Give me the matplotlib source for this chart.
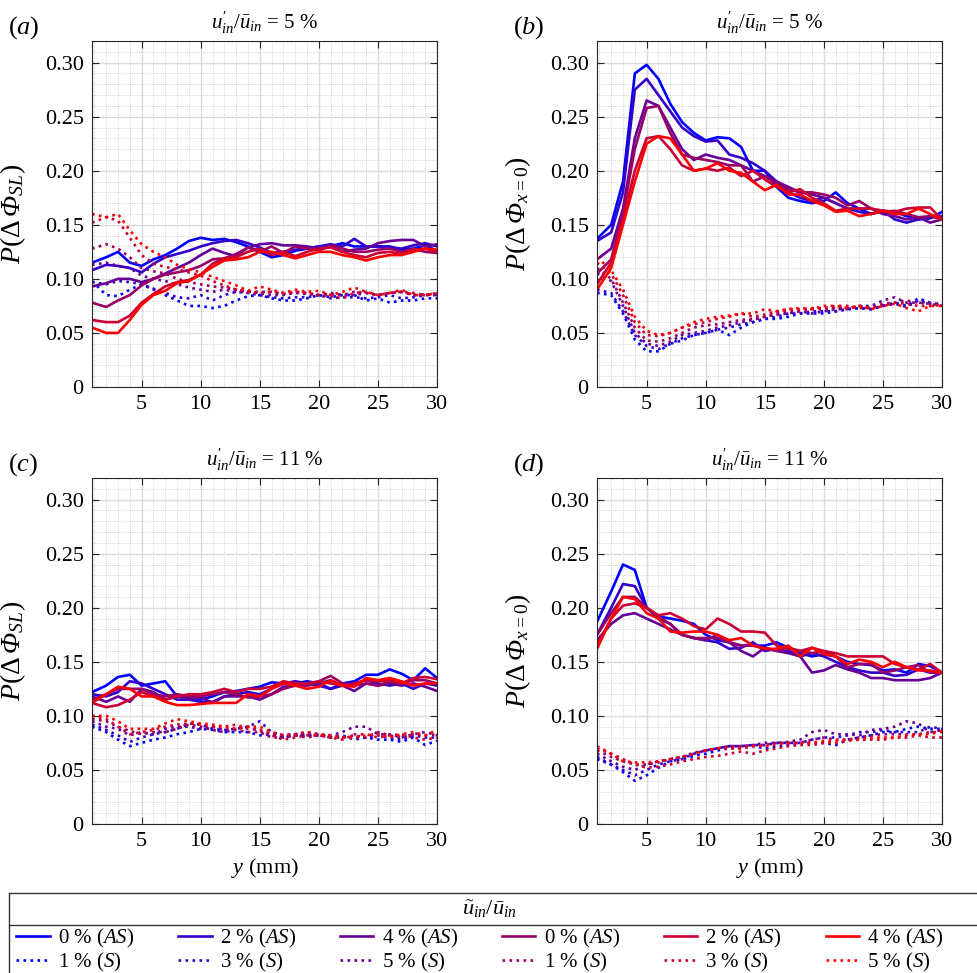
import numpy as np
import matplotlib
matplotlib.use("Agg")
import matplotlib.pyplot as plt
from matplotlib.lines import Line2D
from matplotlib.ticker import MultipleLocator, FuncFormatter

plt.rcParams['font.family'] = ['Liberation Serif', 'DejaVu Serif']
plt.rcParams['mathtext.fontset'] = 'custom'
plt.rcParams['mathtext.rm'] = 'Liberation Serif'
plt.rcParams['mathtext.it'] = 'Liberation Serif:italic'
plt.rcParams['mathtext.sf'] = 'Liberation Serif:italic'   # used for the italic capital Phi

# radial position (mm)
y_mm = np.r_[0.8, np.arange(2, 31)]

colors = ['#0000ff', '#3300cc', '#660099', '#990066', '#cc0033', '#ff0000']
as_labels = ['0 %', '2 %', '4 %', '0 %', '2 %', '4 %']
s_labels = ['1 %', '3 %', '5 %', '1 %', '3 %', '5 %']

# (a) P(dPhi_SL), u'/u = 5 %
a_solid = [
    [0.115,0.120,0.125,0.115,0.112,0.118,0.122,0.128,0.135,0.138,0.136,0.137,0.134,0.130,0.125,0.120,0.122,0.126,0.128,0.130,0.130,0.133,0.130,0.130,0.130,0.130,0.127,0.128,0.131,0.126],
    [0.108,0.113,0.112,0.110,0.106,0.114,0.120,0.123,0.126,0.130,0.133,0.135,0.136,0.133,0.129,0.124,0.125,0.127,0.128,0.130,0.132,0.130,0.137,0.130,0.130,0.129,0.128,0.131,0.133,0.130],
    [0.093,0.096,0.100,0.100,0.097,0.100,0.105,0.110,0.115,0.122,0.128,0.124,0.121,0.129,0.132,0.133,0.131,0.131,0.130,0.128,0.130,0.125,0.127,0.128,0.133,0.135,0.136,0.136,0.130,0.132],
    [0.078,0.074,0.080,0.085,0.094,0.100,0.104,0.106,0.108,0.112,0.118,0.119,0.123,0.129,0.125,0.130,0.124,0.130,0.128,0.126,0.131,0.128,0.125,0.125,0.127,0.128,0.125,0.128,0.125,0.124],
    [0.062,0.060,0.060,0.066,0.078,0.086,0.093,0.097,0.099,0.104,0.114,0.119,0.120,0.125,0.128,0.122,0.125,0.121,0.125,0.128,0.129,0.125,0.122,0.120,0.124,0.125,0.123,0.127,0.128,0.125],
    [0.055,0.050,0.050,0.062,0.076,0.085,0.089,0.096,0.098,0.104,0.111,0.117,0.118,0.120,0.125,0.125,0.122,0.119,0.122,0.125,0.125,0.122,0.120,0.117,0.120,0.122,0.122,0.125,0.128,0.127],
]
a_dotted = [
    [0.098,0.085,0.084,0.090,0.095,0.091,0.085,0.080,0.075,0.075,0.073,0.075,0.080,0.084,0.085,0.082,0.080,0.080,0.082,0.085,0.083,0.085,0.085,0.080,0.082,0.078,0.080,0.080,0.082,0.082],
    [0.097,0.095,0.098,0.097,0.095,0.090,0.087,0.083,0.082,0.085,0.080,0.085,0.088,0.087,0.085,0.083,0.082,0.083,0.083,0.085,0.082,0.083,0.083,0.082,0.083,0.085,0.082,0.083,0.085,0.085],
    [0.113,0.115,0.112,0.110,0.103,0.100,0.098,0.095,0.092,0.090,0.088,0.090,0.088,0.088,0.087,0.085,0.085,0.087,0.086,0.085,0.087,0.085,0.085,0.087,0.085,0.087,0.088,0.085,0.085,0.086],
    [0.128,0.132,0.128,0.120,0.110,0.107,0.105,0.100,0.097,0.095,0.093,0.092,0.090,0.088,0.088,0.088,0.086,0.088,0.087,0.085,0.086,0.085,0.088,0.087,0.085,0.087,0.088,0.085,0.086,0.085],
    [0.152,0.157,0.154,0.138,0.122,0.114,0.111,0.109,0.106,0.103,0.098,0.094,0.090,0.088,0.087,0.088,0.087,0.088,0.087,0.085,0.084,0.082,0.087,0.088,0.085,0.087,0.088,0.087,0.085,0.087],
    [0.160,0.157,0.160,0.145,0.132,0.125,0.120,0.113,0.109,0.106,0.102,0.098,0.094,0.089,0.093,0.090,0.087,0.090,0.088,0.089,0.085,0.088,0.092,0.088,0.085,0.087,0.090,0.085,0.085,0.087],
]

# (b) P(dPhi_x=0), u'/u = 5 %
b_solid = [
    [0.137,0.150,0.190,0.290,0.298,0.285,0.262,0.245,0.235,0.228,0.231,0.230,0.222,0.200,0.200,0.185,0.175,0.172,0.170,0.172,0.180,0.170,0.165,0.160,0.163,0.162,0.158,0.155,0.156,0.162],
    [0.135,0.143,0.180,0.275,0.285,0.270,0.255,0.240,0.232,0.227,0.228,0.215,0.212,0.207,0.200,0.190,0.180,0.175,0.172,0.175,0.170,0.165,0.162,0.160,0.163,0.155,0.152,0.155,0.157,0.158],
    [0.118,0.128,0.165,0.230,0.265,0.260,0.240,0.220,0.210,0.215,0.212,0.210,0.205,0.200,0.195,0.190,0.185,0.180,0.178,0.175,0.170,0.165,0.165,0.165,0.160,0.158,0.155,0.157,0.152,0.155],
    [0.105,0.118,0.160,0.220,0.258,0.260,0.235,0.215,0.212,0.210,0.208,0.205,0.205,0.190,0.195,0.188,0.183,0.180,0.180,0.178,0.175,0.168,0.172,0.165,0.162,0.163,0.160,0.157,0.158,0.155],
    [0.095,0.115,0.155,0.200,0.230,0.232,0.220,0.205,0.200,0.202,0.200,0.203,0.195,0.200,0.192,0.185,0.180,0.183,0.175,0.170,0.163,0.165,0.165,0.165,0.163,0.162,0.165,0.166,0.166,0.155],
    [0.090,0.110,0.150,0.190,0.225,0.232,0.230,0.215,0.200,0.202,0.207,0.200,0.198,0.190,0.182,0.187,0.178,0.178,0.172,0.168,0.162,0.163,0.158,0.160,0.163,0.160,0.160,0.165,0.160,0.155],
]
b_dotted = [
    [0.087,0.085,0.068,0.044,0.033,0.033,0.040,0.045,0.048,0.050,0.053,0.048,0.055,0.060,0.063,0.063,0.065,0.068,0.068,0.068,0.070,0.072,0.073,0.072,0.075,0.078,0.075,0.082,0.078,0.076],
    [0.090,0.087,0.070,0.048,0.038,0.035,0.040,0.043,0.048,0.050,0.053,0.055,0.058,0.060,0.063,0.065,0.068,0.068,0.070,0.070,0.070,0.072,0.073,0.072,0.075,0.077,0.074,0.080,0.077,0.076],
    [0.105,0.098,0.075,0.050,0.040,0.038,0.042,0.048,0.050,0.052,0.055,0.057,0.060,0.062,0.065,0.067,0.068,0.070,0.068,0.070,0.072,0.072,0.075,0.075,0.080,0.083,0.078,0.078,0.077,0.075],
    [0.110,0.100,0.078,0.055,0.043,0.042,0.045,0.050,0.055,0.057,0.058,0.060,0.062,0.063,0.065,0.068,0.070,0.070,0.072,0.072,0.073,0.073,0.075,0.073,0.077,0.078,0.080,0.078,0.077,0.077],
    [0.115,0.105,0.085,0.060,0.048,0.047,0.050,0.055,0.058,0.060,0.063,0.065,0.068,0.065,0.067,0.070,0.072,0.072,0.073,0.073,0.075,0.075,0.073,0.073,0.075,0.078,0.077,0.075,0.075,0.076],
    [0.120,0.108,0.090,0.065,0.052,0.048,0.050,0.055,0.060,0.063,0.065,0.066,0.068,0.068,0.072,0.070,0.072,0.073,0.072,0.075,0.075,0.073,0.075,0.072,0.075,0.077,0.073,0.070,0.075,0.075],
]

# (c) P(dPhi_SL), u'/u = 11 %
c_solid = [
    [0.122,0.128,0.136,0.138,0.128,0.130,0.132,0.118,0.117,0.115,0.118,0.122,0.123,0.125,0.127,0.131,0.130,0.130,0.132,0.130,0.125,0.130,0.132,0.138,0.138,0.143,0.139,0.133,0.144,0.135],
    [0.120,0.118,0.122,0.132,0.130,0.125,0.120,0.115,0.115,0.113,0.113,0.118,0.120,0.122,0.120,0.125,0.130,0.132,0.130,0.128,0.125,0.128,0.130,0.133,0.130,0.128,0.130,0.125,0.130,0.128],
    [0.118,0.113,0.118,0.113,0.125,0.122,0.115,0.118,0.116,0.117,0.112,0.118,0.118,0.118,0.115,0.120,0.127,0.128,0.128,0.130,0.133,0.128,0.123,0.130,0.128,0.130,0.128,0.130,0.127,0.123],
    [0.115,0.120,0.125,0.125,0.125,0.120,0.118,0.120,0.118,0.118,0.120,0.122,0.120,0.117,0.118,0.120,0.125,0.128,0.128,0.132,0.137,0.130,0.128,0.130,0.128,0.132,0.130,0.133,0.133,0.130],
    [0.112,0.108,0.110,0.115,0.122,0.118,0.115,0.118,0.120,0.120,0.122,0.125,0.122,0.125,0.125,0.127,0.132,0.130,0.130,0.132,0.130,0.128,0.130,0.133,0.132,0.133,0.130,0.135,0.136,0.134],
    [0.112,0.120,0.127,0.125,0.118,0.118,0.113,0.110,0.110,0.111,0.112,0.112,0.112,0.120,0.118,0.125,0.130,0.128,0.125,0.127,0.133,0.128,0.127,0.135,0.133,0.135,0.132,0.128,0.130,0.130],
]
c_dotted = [
    [0.090,0.085,0.078,0.072,0.075,0.078,0.080,0.083,0.085,0.088,0.087,0.085,0.085,0.085,0.082,0.083,0.080,0.082,0.082,0.082,0.082,0.080,0.080,0.080,0.078,0.078,0.076,0.080,0.073,0.077],
    [0.092,0.087,0.082,0.076,0.080,0.083,0.085,0.088,0.093,0.092,0.088,0.087,0.088,0.090,0.095,0.085,0.082,0.083,0.082,0.083,0.080,0.082,0.078,0.080,0.082,0.080,0.078,0.082,0.080,0.080],
    [0.095,0.090,0.088,0.082,0.085,0.083,0.088,0.090,0.090,0.088,0.090,0.087,0.088,0.090,0.086,0.083,0.082,0.083,0.085,0.083,0.082,0.085,0.090,0.090,0.083,0.083,0.080,0.083,0.085,0.082],
    [0.097,0.095,0.090,0.086,0.083,0.085,0.085,0.088,0.092,0.090,0.087,0.085,0.087,0.085,0.085,0.080,0.080,0.082,0.080,0.082,0.080,0.080,0.082,0.080,0.085,0.082,0.080,0.083,0.082,0.083],
    [0.100,0.097,0.090,0.083,0.085,0.087,0.090,0.092,0.093,0.092,0.090,0.090,0.092,0.088,0.087,0.082,0.078,0.080,0.082,0.082,0.080,0.078,0.083,0.083,0.080,0.082,0.083,0.080,0.078,0.080],
    [0.100,0.100,0.095,0.088,0.088,0.088,0.093,0.097,0.095,0.093,0.092,0.090,0.088,0.090,0.090,0.085,0.082,0.083,0.085,0.083,0.082,0.080,0.080,0.082,0.083,0.080,0.083,0.085,0.082,0.087],
]

# (d) P(dPhi_x=0), u'/u = 11 %
d_solid = [
    [0.187,0.215,0.240,0.235,0.200,0.192,0.190,0.188,0.185,0.175,0.170,0.168,0.165,0.165,0.165,0.168,0.163,0.158,0.155,0.157,0.155,0.150,0.148,0.147,0.142,0.143,0.140,0.148,0.146,0.140],
    [0.175,0.200,0.222,0.220,0.200,0.190,0.185,0.175,0.172,0.170,0.168,0.162,0.163,0.168,0.160,0.162,0.160,0.155,0.158,0.155,0.150,0.145,0.142,0.140,0.140,0.137,0.138,0.143,0.140,0.140],
    [0.170,0.185,0.193,0.195,0.190,0.185,0.180,0.175,0.172,0.170,0.175,0.168,0.160,0.155,0.163,0.160,0.158,0.155,0.140,0.142,0.147,0.143,0.140,0.135,0.135,0.133,0.133,0.133,0.135,0.140],
    [0.175,0.195,0.210,0.210,0.200,0.192,0.185,0.175,0.172,0.172,0.172,0.168,0.165,0.165,0.163,0.160,0.163,0.160,0.158,0.160,0.155,0.145,0.148,0.148,0.140,0.142,0.145,0.147,0.140,0.140],
    [0.165,0.190,0.202,0.204,0.200,0.193,0.195,0.190,0.183,0.180,0.190,0.185,0.178,0.178,0.177,0.165,0.162,0.160,0.163,0.160,0.158,0.155,0.155,0.155,0.155,0.148,0.145,0.143,0.148,0.140],
    [0.162,0.190,0.210,0.208,0.195,0.190,0.178,0.177,0.178,0.178,0.175,0.170,0.172,0.165,0.162,0.162,0.165,0.155,0.163,0.157,0.155,0.148,0.152,0.150,0.145,0.150,0.145,0.142,0.142,0.140],
]
d_dotted = [
    [0.060,0.055,0.048,0.040,0.045,0.052,0.058,0.060,0.063,0.065,0.068,0.070,0.070,0.072,0.070,0.072,0.073,0.075,0.075,0.075,0.073,0.078,0.080,0.082,0.085,0.085,0.088,0.090,0.088,0.088],
    [0.062,0.055,0.050,0.045,0.050,0.055,0.058,0.060,0.065,0.068,0.070,0.072,0.072,0.073,0.073,0.075,0.075,0.075,0.078,0.080,0.080,0.082,0.085,0.085,0.087,0.085,0.085,0.085,0.090,0.088],
    [0.065,0.058,0.053,0.050,0.055,0.058,0.060,0.062,0.066,0.068,0.070,0.072,0.072,0.073,0.075,0.075,0.076,0.078,0.085,0.087,0.083,0.083,0.082,0.087,0.088,0.090,0.095,0.093,0.085,0.087],
    [0.068,0.062,0.058,0.055,0.055,0.057,0.060,0.062,0.065,0.068,0.070,0.072,0.072,0.073,0.073,0.075,0.075,0.075,0.078,0.080,0.078,0.078,0.080,0.082,0.083,0.083,0.083,0.083,0.085,0.085],
    [0.070,0.065,0.060,0.055,0.052,0.053,0.055,0.058,0.060,0.062,0.063,0.065,0.067,0.065,0.068,0.070,0.072,0.073,0.073,0.075,0.075,0.077,0.078,0.078,0.078,0.080,0.080,0.082,0.080,0.080],
    [0.072,0.065,0.058,0.057,0.057,0.058,0.060,0.062,0.065,0.068,0.070,0.070,0.070,0.072,0.072,0.074,0.075,0.075,0.075,0.077,0.077,0.078,0.078,0.080,0.080,0.080,0.082,0.083,0.083,0.086],
]

t5 = r"$u^{\prime}_{in}/\bar{u}_{in}$ = 5 %"
t11 = r"$u^{\prime}_{in}/\bar{u}_{in}$ = 11 %"
lab_sl = r'$P(\Delta\,\mathsf{\Phi}_{SL})$'
lab_x0 = r'$P(\Delta\,\mathsf{\Phi}_{x=0})$'
panels = [
    ('a', t5, lab_sl, a_solid, a_dotted),
    ('b', t5, lab_x0, b_solid, b_dotted),
    ('c', t11, lab_sl, c_solid, c_dotted),
    ('d', t11, lab_x0, d_solid, d_dotted),
]

W, H = 978, 973
fig = plt.figure(figsize=(W / 100, H / 100), dpi=100)
lefts = [92, 597, 92, 597]
bottoms = [387, 387, 824, 824]
aw, ah = 345, 346

fmt = FuncFormatter(lambda v, p: '0' if abs(v) < 1e-9 else f'{v:.2f}')

handles = []
for i, (tag, title, ylab, solid, dotted) in enumerate(panels):
    ax = fig.add_axes([lefts[i] / W, 1 - bottoms[i] / H, aw / W, ah / H])
    for k in range(6):
        ls, = ax.plot(y_mm, solid[k], '-', color=colors[k], lw=1.9)
        ld, = ax.plot(y_mm, dotted[k], ':', color=colors[k], lw=1.9)
        if i == 0:
            handles += [ls, ld]
    ax.set_xlim(0.8, 30)
    ax.set_ylim(0, 0.32)
    ax.xaxis.set_major_locator(MultipleLocator(5))
    ax.xaxis.set_minor_locator(MultipleLocator(1))
    ax.yaxis.set_major_locator(MultipleLocator(0.05))
    ax.yaxis.set_minor_locator(MultipleLocator(0.01))
    ax.yaxis.set_major_formatter(fmt)
    ax.grid(which='major', color='#dcdcdc', lw=1.0, ls='-')
    ax.grid(which='minor', color='#c4c4c4', lw=0.6, ls=':')
    ax.set_axisbelow(True)
    ax.tick_params(which='major', direction='in', length=5, width=0.8,
                   top=True, right=True, labelsize=16, pad=6, color='#262626')
    ax.tick_params(which='minor', length=0)
    for sp in ax.spines.values():
        sp.set_color('#262626')
        sp.set_linewidth(0.8)
    ax.set_ylabel(ylab, fontsize=20)
    ax.yaxis.set_label_coords(-0.185, 0.5)
    ax.set_title(title, fontsize=15, pad=9)
    if i >= 2:
        ax.set_xlabel(r'$y$ (mm)', fontsize=16, labelpad=3)
    fig.text((lefts[i] - 84) / W, 1 - (bottoms[i] - ah - 13) / H, f'($\\mathit{{{tag}}}$)',
             fontsize=19, ha='left', va='center')

# legend frame (runs off the right and bottom edge, as in the reference)
box_l, box_t, sep_y = 9 / W, 1 - 893 / H, 1 - 925 / H
fig.add_artist(Line2D([box_l, 1.0], [box_t, box_t], color='#333333', lw=1.0))
fig.add_artist(Line2D([box_l, 1.0], [sep_y, sep_y], color='#333333', lw=1.0))
fig.add_artist(Line2D([box_l, box_l], [0.0, box_t], color='#333333', lw=1.0))
fig.text(0.5, 1 - 909 / H, r'$\tilde{u}_{in}/\bar{u}_{in}$', fontsize=16, ha='center', va='center')

labels = []
for k in range(6):
    labels += [as_labels[k] + r' ($AS$)', s_labels[k] + r' ($S$)']
fig.legend(handles, labels, ncol=6, loc='upper left', bbox_to_anchor=(14 / W, 1 - 924 / H),
           frameon=False, fontsize=15, handlelength=1.6, handletextpad=0.4,
           columnspacing=2.1, labelspacing=0.05, borderaxespad=0, borderpad=0.12)

fig.savefig('out.png', dpi=100)
